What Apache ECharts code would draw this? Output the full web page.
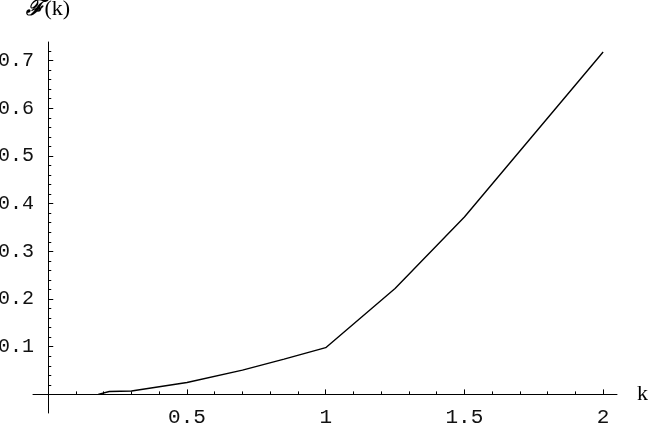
<!DOCTYPE html>
<html>
<head>
<meta charset="utf-8">
<script src="https://cdn.jsdelivr.net/npm/echarts@6/dist/echarts.min.js"></script>
<style>
  html, body { margin: 0; padding: 0; background: #fff; }
  #chart { width: 650px; height: 423px; }
</style>
</head>
<body>
<div id="chart"></div>
<script>
// curve
const kValues = [0.18, 0.22, 0.3, 0.5, 0.7, 0.85, 1.0, 1.25, 1.5, 1.75, 2.0];
const fValues = [0.0, 0.006, 0.007, 0.025, 0.051, 0.074, 0.098, 0.222, 0.372, 0.545, 0.718];

// ticks
const xMajorTicks = [0.5, 1, 1.5, 2];
const xMinorTicks = [0.1, 0.2, 0.3, 0.4, 0.6, 0.7, 0.8, 0.9, 1.1, 1.2, 1.3, 1.4, 1.6, 1.7, 1.8, 1.9];
const yMajorTicks = [0.1, 0.2, 0.3, 0.4, 0.5, 0.6, 0.7];
const yMinorTicks = [0.02, 0.04, 0.06, 0.08, 0.12, 0.14, 0.16, 0.18, 0.22, 0.24, 0.26, 0.28,
  0.32, 0.34, 0.36, 0.38, 0.42, 0.44, 0.46, 0.48, 0.52, 0.54, 0.56, 0.58,
  0.62, 0.64, 0.66, 0.68, 0.72];

const chart = echarts.init(document.getElementById('chart'));

const lineStyle = { color: '#000', width: 1 };

const option = {
  animation: false,
  backgroundColor: '#fff',
  grid: { left: 33, right: 33, top: 42, bottom: 10, containLabel: false, outerBoundsMode: 'none' },
  xAxis: [
    {
      type: 'value', min: -0.055, max: 2.05, position: 'bottom',
      name: 'k', nameLocation: 'end', nameGap: 20,
      nameTextStyle: { fontFamily: 'Liberation Serif', fontSize: 22, color: '#000' },
      axisLine: { show: true, onZero: true, lineStyle: lineStyle },
      axisTick: { show: true, inside: true, length: 5, customValues: xMajorTicks, lineStyle: lineStyle },
      axisLabel: { customValues: xMajorTicks, margin: -6, fontFamily: 'Liberation Mono', fontSize: 21, color: '#111' },
      splitLine: { show: false }
    },
    {
      // minor ticks only
      type: 'value', min: -0.055, max: 2.05, position: 'bottom',
      axisLine: { show: false, onZero: true },
      axisTick: { show: true, inside: true, length: 3, customValues: xMinorTicks, lineStyle: lineStyle },
      axisLabel: { show: false },
      splitLine: { show: false }
    }
  ],
  yAxis: [
    {
      type: 'value', min: -0.039, max: 0.739, position: 'left',
      name: '{f|ℱ}{p|(k)}', nameLocation: 'end', nameGap: 22,
      nameTextStyle: {
        rich: {
          f: { fontFamily: 'DejaVu Serif', fontSize: 22, fontWeight: 'bold', fontStyle: 'italic', color: '#000' },
          p: { fontFamily: 'Liberation Serif', fontSize: 22, color: '#000' }
        }
      },
      axisLine: { show: true, onZero: true, lineStyle: lineStyle },
      axisTick: { show: true, inside: true, length: 5, customValues: yMajorTicks, lineStyle: lineStyle },
      axisLabel: { customValues: yMajorTicks, margin: -1, fontFamily: 'Liberation Mono', fontSize: 20, color: '#111' },
      splitLine: { show: false }
    },
    {
      // minor ticks only
      type: 'value', min: -0.039, max: 0.739, position: 'left',
      axisLine: { show: false, onZero: true },
      axisTick: { show: true, inside: true, length: 3, customValues: yMinorTicks, lineStyle: lineStyle },
      axisLabel: { show: false },
      splitLine: { show: false }
    }
  ],
  series: [{
    type: 'line',
    data: kValues.map((k, i) => [k, fValues[i]]),
    showSymbol: false,
    smooth: false,
    lineStyle: { color: '#000', width: 1.4 }
  }]
};

chart.setOption(option);
</script>
</body>
</html>
